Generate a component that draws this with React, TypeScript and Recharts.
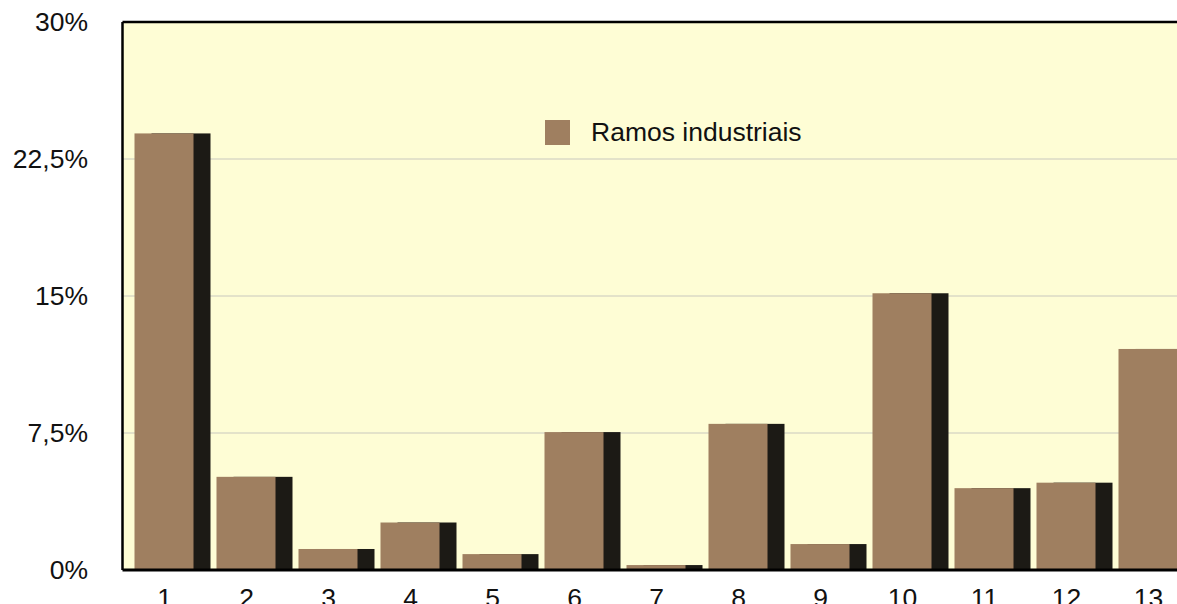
import React from 'react';
import { Bar, BarChart, CartesianGrid, Legend, ReferenceLine, XAxis, YAxis } from 'recharts';

const categories = ['1', '2', '3', '4', '5', '6', '7', '8', '9', '10', '11', '12', '13'];
const shares = [23.9, 5.1, 1.15, 2.6, 0.87, 7.55, 0.27, 8.0, 1.42, 15.15, 4.48, 4.78, 12.1];
const yTicks = [0, 7.5, 15, 22.5, 30];
const seriesName = 'Ramos industriais';

const data = categories.map((c, i) => ({ name: c, value: shares[i] }));

const FONT = '"Liberation Sans", Arial, Helvetica, sans-serif';
const BROWN = '#9F7F60';
const SHADOW = '#1C1A15';
const FS = 26.5;

const fmt = (v: number) => `${String(v).replace('.', ',')}%`;

const ShadowBar = (props: any) => {
  const { x, y, width, height } = props;
  if (!height || height <= 0) return null;
  return (
    <g>
      <rect x={x + 17} y={y} width={width} height={height} fill={SHADOW} />
      <rect x={x} y={y} width={width} height={height} fill={BROWN} />
    </g>
  );
};

const YTick = ({ y, payload }: any) => (
  <text x={88} y={y + 9} textAnchor="end" fontSize={FS} fontFamily={FONT} fill="#111">
    {fmt(payload.value)}
  </text>
);

const XTick = ({ x, payload }: any) => (
  <text x={x + 1} y={607} textAnchor="middle" fontSize={FS} fontFamily={FONT} fill="#111">
    {payload.value}
  </text>
);

const LegendBox = () => (
  <div style={{ display: 'flex', alignItems: 'center', fontFamily: FONT, fontSize: FS, color: '#111' }}>
    <span style={{ display: 'inline-block', width: 25, height: 25, background: BROWN, marginRight: 21 }} />
    <span>{seriesName}</span>
  </div>
);

export default function App() {
  return (
    <div style={{ position: 'fixed', top: 0, left: 0, width: 1177, height: 604, overflow: 'hidden', background: '#fff' }}>
      <BarChart
        width={1200}
        height={640}
        data={data}
        margin={{ top: 22, right: 11.5, bottom: 30, left: 0 }}
        barCategoryGap={0}
      >
        <CartesianGrid vertical={false} fill="#FEFDD5" stroke="#C9C8BE" strokeWidth={1} />
        <XAxis
          dataKey="name"
          height={40}
          axisLine={{ stroke: '#000', strokeWidth: 3 }}
          tickLine={false}
          tick={<XTick />}
          interval={0}
        />
        <YAxis
          width={122.5}
          domain={[0, 30]}
          ticks={yTicks}
          axisLine={{ stroke: '#000', strokeWidth: 2.5 }}
          tickLine={false}
          tick={<YTick />}
        />
        <ReferenceLine y={30} stroke="#000" strokeWidth={2.5} />
        <Legend
          layout="horizontal"
          verticalAlign="middle"
          align="center"
          wrapperStyle={{ top: 117, left: 545, width: 'auto' }}
          content={<LegendBox />}
        />
        <Bar dataKey="value" name={seriesName} barSize={59} shape={<ShadowBar />} isAnimationActive={false} />
      </BarChart>
    </div>
  );
}
